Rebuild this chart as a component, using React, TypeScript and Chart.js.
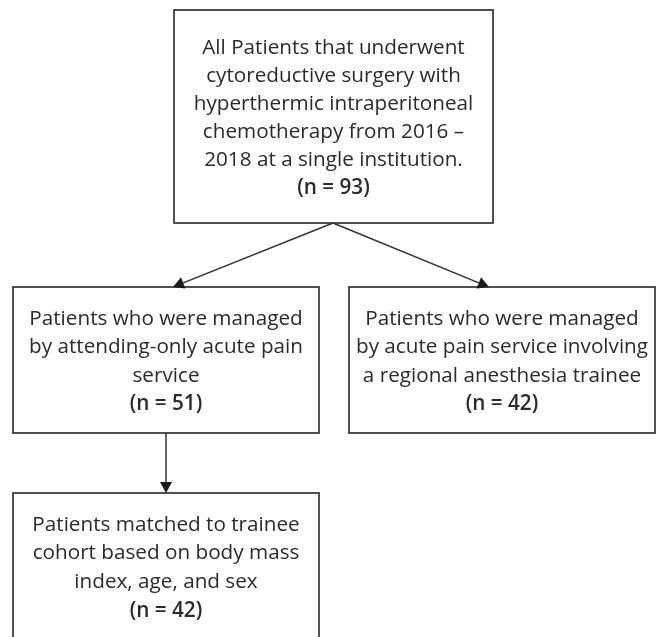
import React, { useEffect, useRef } from "react";
import { Chart, registerables } from "chart.js";

Chart.register(...registerables);

// ---- content ----
const stepTitles: string[][] = [
  [
    "All Patients that underwent",
    "cytoreductive surgery with",
    "hyperthermic intraperitoneal",
    "chemotherapy from 2016 –",
    "2018 at a single institution.",
  ],
  ["Patients who were managed", "by attending-only acute pain", "service"],
  ["Patients who were managed", "by acute pain service involving", "a regional anesthesia trainee"],
  ["Patients matched to trainee", "cohort based on body mass", "index, age, and sex"],
];
const stepCounts: number[] = [93, 51, 42, 42];
const flowLinks: [number, number][] = [
  [0, 1],
  [0, 2],
  [1, 3],
];

// ---- layout (scale units = page pixels) ----
const boxFrames = [
  { x0: 174, x1: 493, y0: 10, y1: 223, base: 53.5, step: 28 },
  { x0: 13, x1: 319, y0: 287, y1: 433, base: 324.5, step: 28.6 },
  { x0: 349, x1: 655, y0: 287, y1: 433, base: 324.5, step: 28.6 },
  { x0: 13, x1: 319, y0: 493, y1: 660, base: 530.5, step: 28.8 },
];
const linkGeometry = [
  { sx: 333, tx: 173 },
  { sx: 333, tx: 489 },
  { sx: 166, tx: 166 },
];
const FONT = '"Open Sans", "Noto Sans", sans-serif';
const FONT_SIZE = 20.7;
const INK = "#2b2b2b";
const STROKE = "#333333";

const flowPlugin = {
  id: "flowPlugin",
  afterDatasetsDraw(chart: any) {
    const ctx = chart.ctx as CanvasRenderingContext2D;
    const xs = chart.scales.x;
    const ys = chart.scales.y;
    const px = (v: number) => xs.getPixelForValue(v);
    const py = (v: number) => ys.getPixelForValue(v);
    ctx.save();

    // boxes
    boxFrames.forEach((f, i) => {
      const x0 = px(f.x0), x1 = px(f.x1), y0 = py(f.y0), y1 = py(f.y1);
      ctx.fillStyle = "#ffffff";
      ctx.fillRect(x0, y0, x1 - x0, y1 - y0);
      ctx.strokeStyle = STROKE;
      ctx.lineWidth = 1.7;
      ctx.strokeRect(x0, y0, x1 - x0, y1 - y0);

      const cx = (x0 + x1) / 2;
      ctx.fillStyle = INK;
      ctx.textAlign = "center";
      ctx.textBaseline = "alphabetic";
      ctx.font = `400 ${FONT_SIZE}px ${FONT}`;
      const lines = stepTitles[i];
      lines.forEach((t, k) => {
        ctx.fillText(t, cx, py(f.base + k * f.step));
      });
      ctx.font = `600 ${FONT_SIZE}px ${FONT}`;
      ctx.fillText(`(n = ${stepCounts[i]})`, cx, py(f.base + lines.length * f.step));
    });

    // arrows
    flowLinks.forEach(([s, t], i) => {
      const g = linkGeometry[i];
      const sx = px(g.sx), sy = py(boxFrames[s].y1);
      const tx = px(g.tx), ty = py(boxFrames[t].y0);
      const ang = Math.atan2(ty - sy, tx - sx);
      const len = 11, hw = 6;
      const bx = tx - Math.cos(ang) * len;
      const by = ty - Math.sin(ang) * len;
      ctx.strokeStyle = STROKE;
      ctx.lineWidth = 1.5;
      ctx.beginPath();
      ctx.moveTo(sx, sy);
      ctx.lineTo(bx, by);
      ctx.stroke();
      ctx.fillStyle = "#1a1a1a";
      ctx.beginPath();
      ctx.moveTo(tx, ty);
      ctx.lineTo(bx + Math.sin(ang) * hw, by - Math.cos(ang) * hw);
      ctx.lineTo(bx - Math.sin(ang) * hw, by + Math.cos(ang) * hw);
      ctx.closePath();
      ctx.fill();
    });

    ctx.restore();
  },
};

export default function App() {
  const ref = useRef<HTMLCanvasElement | null>(null);
  useEffect(() => {
    document.body.style.margin = "0";
    document.body.style.background = "#ffffff";
    if (!ref.current) return;
    const chart = new Chart(ref.current, {
      type: "scatter",
      data: {
        datasets: [
          {
            label: "steps",
            data: boxFrames.map((f, i) => ({
              x: (f.x0 + f.x1) / 2,
              y: (f.y0 + f.y1) / 2,
              n: stepCounts[i],
            })) as any,
            pointRadius: 0,
            pointHoverRadius: 0,
          },
        ],
      },
      options: {
        animation: false,
        responsive: false,
        devicePixelRatio: 1,
        layout: { padding: 0 },
        events: [],
        plugins: { legend: { display: false }, tooltip: { enabled: false } },
        scales: {
          x: { type: "linear", min: 0, max: 658, display: false },
          y: { type: "linear", min: 0, max: 637, reverse: true, display: false },
        },
      },
      plugins: [flowPlugin],
    });
    return () => chart.destroy();
  }, []);
  return (
    <div style={{ width: 658, height: 637, background: "#fff" }}>
      <canvas ref={ref} width={658} height={637} style={{ display: "block" }} />
    </div>
  );
}
